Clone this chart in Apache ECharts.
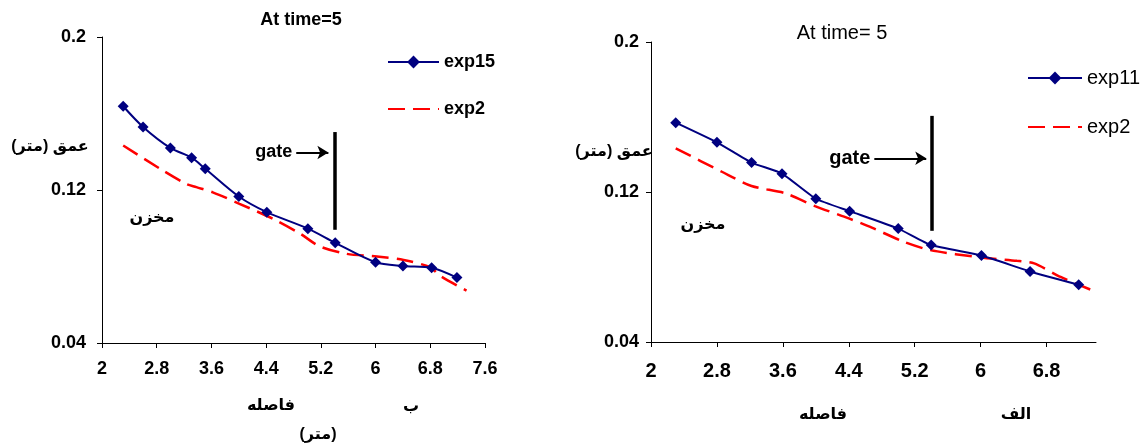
<!DOCTYPE html>
<html><head><meta charset="utf-8">
<script src="https://cdn.jsdelivr.net/npm/echarts@6/dist/echarts.min.js"></script>
<style>html,body{margin:0;padding:0;background:#fff}#c{width:1144px;height:445px}</style>
</head><body><div id="c"></div>
<script>
// ---- Left panel (ب) ----
const leftExp15X = [2.31, 2.60, 3.00, 3.31, 3.51, 4.00, 4.41, 5.01, 5.41, 6.00, 6.40, 6.82, 7.19];
const leftExp15Y = [0.1638, 0.1530, 0.1420, 0.1369, 0.1311, 0.1166, 0.1084, 0.0998, 0.0924, 0.0822, 0.0803, 0.0794, 0.0742];
const leftExp2X = [2.31, 2.85, 3.23, 3.38, 3.62, 4.01, 4.50, 4.90, 5.18, 5.58, 6.02, 6.41, 6.80, 6.94, 7.33];
const leftExp2Y = [0.1433, 0.1311, 0.1232, 0.1215, 0.1188, 0.1128, 0.1049, 0.0971, 0.0906, 0.0866, 0.0852, 0.0834, 0.0796, 0.0752, 0.0674];
const leftGate = [5.41, 0.1503, 0.0992];        // x, top, bottom
const leftArrow = [4.84, 5.31, 0.1396];         // x start, x end, y
// ---- Right panel (الف) ----
const rightExp11X = [2.30, 2.80, 3.22, 3.59, 4.00, 4.41, 5.00, 5.40, 6.01, 6.60, 7.19];
const rightExp11Y = [0.1570, 0.1465, 0.1357, 0.1298, 0.1164, 0.1098, 0.1005, 0.0917, 0.0861, 0.0776, 0.0705];
const rightExp2X = [2.30, 2.86, 3.22, 3.63, 3.99, 4.40, 4.68, 5.07, 5.39, 6.00, 6.44, 6.65, 6.97, 7.33];
const rightExp2Y = [0.1433, 0.1308, 0.1232, 0.1193, 0.1125, 0.1059, 0.1010, 0.0934, 0.0890, 0.0851, 0.0833, 0.0819, 0.0747, 0.0680];
const rightGate = [5.41, 0.1606, 0.0993];
const rightArrow = [4.71, 5.34, 0.1380];
// ---- Axes ----
const yTicks = [0.04, 0.12, 0.2];
const xTicksLeft = [2, 2.8, 3.6, 4.4, 5.2, 6, 6.8, 7.6];
const xTicksRight = [2, 2.8, 3.6, 4.4, 5.2, 6, 6.8];

const zip = (xs, ys) => xs.map((x, i) => [x, ys[i]]);
const NAVY = '#000080', RED = '#ff0000';
const FF = "'Liberation Sans', Arial, 'DejaVu Sans', sans-serif";
const RLM = '\u200F';

function xAxis(gi, max, ticks, fs, margin) {
  return {
    type: 'value', gridIndex: gi, min: 2, max: max, interval: 0.8,
    axisLine: { show: true, onZero: false, lineStyle: { color: '#000', width: 1 } },
    axisTick: { show: true, inside: false, length: 5, customValues: ticks, lineStyle: { color: '#000' } },
    axisLabel: { customValues: ticks, margin: margin, color: '#000', fontWeight: 'bold', fontSize: fs, fontFamily: FF,
      formatter: v => String(+v.toFixed(1)) },
    splitLine: { show: false }
  };
}
function yAxis(gi, margin) {
  return {
    type: 'value', gridIndex: gi, min: 0.04, max: 0.2, interval: 0.08,
    axisLine: { show: true, onZero: false, lineStyle: { color: '#000', width: 1 } },
    axisTick: { show: true, inside: false, length: 5, customValues: yTicks, lineStyle: { color: '#000' } },
    axisLabel: { customValues: yTicks, margin: margin, color: '#000', fontWeight: 'bold', fontSize: 18, fontFamily: FF,
      formatter: v => String(+v.toFixed(2)) },
    splitLine: { show: false }
  };
}
function gateMarks(gate, arrow, fs) {
  return {
    silent: true, animation: false,
    data: [
      [{ coord: [gate[0], gate[1]], symbol: 'none', lineStyle: { color: '#000', width: 3.5, type: 'solid' }, label: { show: false } },
       { coord: [gate[0], gate[2]], symbol: 'none' }],
      [{ coord: [arrow[0], arrow[2]], symbol: 'none', lineStyle: { color: '#000', width: 2, type: 'solid' },
         label: { show: true, position: 'start', formatter: 'gate', color: '#000', fontWeight: 'bold', fontSize: fs, fontFamily: FF, distance: 4 } },
       { coord: [arrow[1], arrow[2]], symbol: 'arrow', symbolSize: [10, 11] }]
    ]
  };
}
const solidSeries = (name, data, xi, smooth) => ({
  name, type: 'line', xAxisIndex: xi, yAxisIndex: xi, data, smooth,
  symbol: 'diamond', symbolSize: 11, showSymbol: true,
  lineStyle: { color: NAVY, width: 2 }, itemStyle: { color: NAVY }, z: 3
});
const dashSeries = (name, data, xi, smooth, gate, arrow, fs) => ({
  name, type: 'line', xAxisIndex: xi, yAxisIndex: xi, data, smooth,
  symbol: 'none', lineStyle: { color: RED, width: 2.5, type: [17, 8] }, itemStyle: { color: RED }, z: 2,
  markLine: gateMarks(gate, arrow, fs)
});

function txt(x, y, text, size, bold, extra) {
  return Object.assign({ type: 'text', x, y, silent: true,
    style: { text, fill: '#000', font: (bold ? 'bold ' : '') + size + 'px ' + FF, align: 'center', verticalAlign: 'middle' } }, extra || {});
}

const chart = echarts.init(document.getElementById('c'), null, { renderer: 'canvas' });
chart.setOption({
  animation: false,
  backgroundColor: '#fff',
  grid: [
    { left: 102, top: 37, width: 383, height: 306 },
    { left: 651, top: 42, width: 445, height: 300 }
  ],
  xAxis: [xAxis(0, 7.6, xTicksLeft, 18, 17), xAxis(1, 7.4, xTicksRight, 20, 19)],
  yAxis: [yAxis(0, 16), yAxis(1, 12)],
  legend: [
    { data: ['exp15', { name: 'exp2', itemStyle: { opacity: 0 } }], orient: 'vertical', left: 387, top: 53, padding: 0,
      itemWidth: 51, itemHeight: 16, itemGap: 29,
      textStyle: { color: '#000', fontWeight: 'bold', fontSize: 18, fontFamily: FF }, selectedMode: false },
    { data: ['exp11', { name: 'exp2', itemStyle: { opacity: 0 } }], orient: 'vertical', left: 1027, top: 68, padding: 0,
      itemWidth: 54, itemHeight: 16, itemGap: 29,
      textStyle: { color: '#000', fontSize: 20, fontFamily: FF }, selectedMode: false }
  ],
  series: [
    solidSeries('exp15', zip(leftExp15X, leftExp15Y), 0, 0.3),
    dashSeries('exp2', zip(leftExp2X, leftExp2Y), 0, 0.3, leftGate, leftArrow, 18),
    solidSeries('exp11', zip(rightExp11X, rightExp11Y), 1, 0.15),
    dashSeries('exp2', zip(rightExp2X, rightExp2Y), 1, 0.25, rightGate, rightArrow, 20)
  ],
  graphic: [
    txt(301, 20, 'At time=5', 18, true),
    txt(842, 33, 'At time= 5', 20, false),
    txt(50, 147, RLM + 'عمق (متر)' + RLM, 16, true),
    txt(614, 152, RLM + 'عمق (متر)' + RLM, 16, true),
    txt(152, 218, 'مخزن', 16, true),
    txt(703, 225, 'مخزن', 16, true),
    txt(271, 406, 'فاصله', 16, true),
    txt(411, 407, 'ب', 16, true),
    txt(318, 435, RLM + '(متر)' + RLM, 16, true),
    txt(823, 415, 'فاصله', 16, true),
    txt(1016, 415, 'الف', 16, true)
  ]
});
</script>
</body></html>
